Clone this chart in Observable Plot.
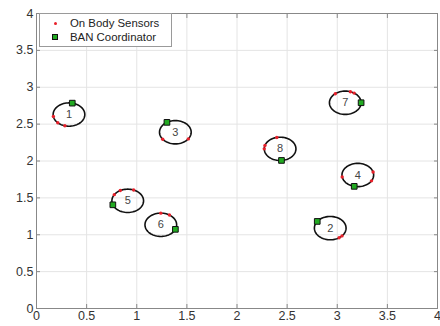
<!DOCTYPE html>
<html>
<head>
<meta charset="utf-8">
<script src="https://cdn.jsdelivr.net/npm/d3@7"></script>
<script src="https://cdn.jsdelivr.net/npm/@observablehq/plot@0.6"></script>
<style>
  html, body { margin: 0; padding: 0; background: #fff; }
  #wrap { position: relative; width: 440px; height: 326px; font-family: "Liberation Sans", Arial, sans-serif; }
  #legend { position: absolute; left: 39px; top: 13px; width: 133px; height: 34px; background: #fff; border: 1px solid #9a9a9a; box-sizing: border-box; font-size: 11.4px; color: #222; }
  .row { position: absolute; left: 0; display: flex; align-items: center; }
  .sym { width: 30px; display: flex; justify-content: center; }
</style>
</head>
<body>
<div id="wrap">
  <div id="chart"></div>
  <div id="legend">
    <div class="row" style="top:3px"><span class="sym"><span style="display:inline-block;width:3px;height:3px;border-radius:50%;background:#e8202a"></span></span><span>On Body Sensors</span></div>
    <div class="row" style="top:17px"><span class="sym"><span style="display:inline-block;width:4px;height:4px;background:#22aa22;border:1px solid #111"></span></span><span>BAN Coordinator</span></div>
  </div>
</div>
<script>
// Ellipse (body area network) ids, centers and radius in data units
const ids = [1, 2, 3, 4, 5, 6, 7, 8];
const cx = [0.324, 2.93, 1.385, 3.205, 0.91, 1.24, 3.08, 2.43];
const cy = [2.63, 1.09, 2.39, 1.81, 1.46, 1.135, 2.79, 2.165];
const radius = 0.158;
// BAN coordinator position on each ellipse (angle in degrees)
const coordAngle = [78, 145, 122, -103, 200, -23, 0, -85];
// On-body sensor positions on each ellipse (angles in degrees)
const sensorAngles = [
  [190, 225, 255],
  [-42, -56],
  [217, 325],
  [190, 15, -30],
  [148, 118, 68],
  [90, 57],
  [129, 71, 56],
  [180, 163, 102]
];
const xTicks = [0, 0.5, 1, 1.5, 2, 2.5, 3, 3.5, 4];
const yTicks = [0, 0.5, 1, 1.5, 2, 2.5, 3, 3.5, 4];

const rad = d => d * Math.PI / 180;
const ring = [];
ids.forEach((id, i) => {
  for (let k = 0; k < 72; k++) {
    const a = 2 * Math.PI * k / 72;
    ring.push({id, x: cx[i] + radius * Math.cos(a), y: cy[i] + radius * Math.sin(a)});
  }
});
const coords = ids.map((id, i) => ({id, x: cx[i] + radius * Math.cos(rad(coordAngle[i])), y: cy[i] + radius * Math.sin(rad(coordAngle[i]))}));
const sensors = [];
ids.forEach((id, i) => sensorAngles[i].forEach(a => sensors.push({id, x: cx[i] + radius * Math.cos(rad(a)), y: cy[i] + radius * Math.sin(rad(a))})));
const labels = ids.map((id, i) => ({id, x: cx[i], y: cy[i]}));

const chart = Plot.plot({
  width: 440,
  height: 326,
  marginLeft: 36,
  marginRight: 3,
  marginTop: 13,
  marginBottom: 18,
  style: {fontFamily: "Liberation Sans, Arial, sans-serif", fontSize: "12.5px", color: "#333", background: "#fff"},
  x: {domain: [0, 4]},
  y: {domain: [0, 4]},
  marks: [
    Plot.gridX(xTicks, {stroke: "#e4e4e4", strokeOpacity: 1}),
    Plot.gridY(yTicks, {stroke: "#e4e4e4", strokeOpacity: 1}),
    Plot.axisX(xTicks, {anchor: "bottom", label: null, tickSize: 0, tickPadding: 3, tickFormat: d => String(d), stroke: "#777", fill: "#333"}),
    Plot.axisY(yTicks, {anchor: "left", label: null, tickSize: 0, tickPadding: 3, tickFormat: d => String(d), stroke: "#777", fill: "#333"}),
    Plot.axisX(xTicks, {anchor: "bottom", label: null, tickSize: -4, text: null, stroke: "#888"}),
    Plot.axisX(xTicks, {anchor: "top", label: null, tickSize: -4, text: null, stroke: "#888"}),
    Plot.axisY(yTicks, {anchor: "left", label: null, tickSize: -4, text: null, stroke: "#888"}),
    Plot.axisY(yTicks, {anchor: "right", label: null, tickSize: -4, text: null, stroke: "#888"}),
    Plot.frame({stroke: "#888"}),
    Plot.line(ring, {x: "x", y: "y", z: "id", curve: "linear-closed", stroke: "#111", strokeWidth: 1.6}),
    Plot.dot(sensors, {x: "x", y: "y", r: 1.7, fill: "#e8202a", stroke: "none"}),
    Plot.dot(coords, {x: "x", y: "y", symbol: "square", r: 3.2, fill: "#22aa22", stroke: "#111", strokeWidth: 1}),
    Plot.text(labels, {x: "x", y: "y", text: d => String(d.id), fontSize: 11, fill: "#444"})
  ]
});
document.getElementById("chart").appendChild(chart);
</script>
</body>
</html>
